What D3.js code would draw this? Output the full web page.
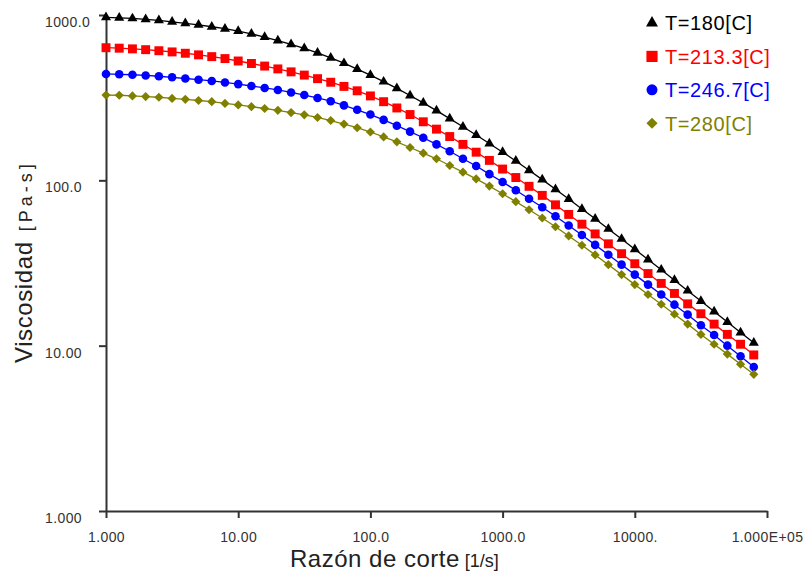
<!DOCTYPE html>
<html>
<head>
<meta charset="utf-8">
<script src="https://cdn.jsdelivr.net/npm/d3@7"></script>
<style>
  body { margin: 0; background: #fff; }
  svg text { font-family: "Liberation Sans", Arial, sans-serif; }
</style>
</head>
<body>
<svg></svg>
<script>
//Gráfico de viscosidad contra razón de corte, escala logarítmica en ambos ejes

//Razón de corte [1/s] (10 puntos por década)
var razonCorte = [1.000, 1.259, 1.585, 1.995, 2.512, 3.162, 3.981, 5.012, 6.310, 7.943,
    10.00, 12.59, 15.85, 19.95, 25.12, 31.62, 39.81, 50.12, 63.10, 79.43,
    100.0, 125.9, 158.5, 199.5, 251.2, 316.2, 398.1, 501.2, 631.0, 794.3,
    1000, 1259, 1585, 1995, 2512, 3162, 3981, 5012, 6310, 7943,
    10000, 12589, 15849, 19953, 25119, 31623, 39811, 50119, 63096, 79433];

//Viscosidad [Pa-s] para cada temperatura
var visc180 = [968, 962, 953, 942, 927, 910, 891, 871, 849, 826,
    800, 769, 736, 701, 665, 628, 590, 551, 511, 471,
    433, 395, 360, 326, 294, 264, 236, 211, 188, 167,
    148, 131, 115, 101, 88.3, 77.1, 67.1, 58.5, 50.8, 44.2,
    38.3, 33.2, 28.8, 24.9, 21.5, 18.6, 16.1, 13.9, 12.0, 10.4];
var visc213 = [634, 630, 624, 617, 608, 598, 587, 574, 560, 545,
    527, 509, 491, 472, 453, 433, 412, 392, 370, 348,
    324, 299, 274, 250, 226, 204, 184, 165, 148, 132,
    117, 104, 92.0, 81.1, 71.1, 62.2, 54.3, 47.4, 41.3, 36.0,
    31.3, 27.3, 23.8, 20.7, 17.9, 15.6, 13.5, 11.7, 10.2, 8.79];
var visc247 = [440, 438, 435, 431, 426, 420, 413, 406, 399, 391,
    382, 372, 362, 352, 340, 328, 315, 301, 284, 267,
    250, 232, 214, 197, 181, 165, 150, 135, 122, 109,
    97.7, 87.1, 77.4, 68.7, 60.7, 53.3, 46.7, 40.7, 35.5, 30.9,
    26.9, 23.4, 20.4, 17.7, 15.4, 13.3, 11.6, 10.0, 8.63, 7.43];
var visc280 = [328, 327, 324, 321, 318, 313, 309, 304, 299, 292,
    286, 279, 272, 265, 257, 249, 240, 230, 219, 208,
    196, 183, 171, 158, 146, 135, 123, 112, 102, 92.3,
    83.0, 74.3, 66.4, 59.2, 52.4, 46.1, 40.5, 35.4, 30.9, 26.9,
    23.4, 20.4, 17.8, 15.5, 13.5, 11.7, 10.2, 8.89, 7.73, 6.71];

var nombres = ["T=180[C]", "T=213.3[C]", "T=246.7[C]", "T=280[C]"];

//Marcas de los ejes y sus etiquetas tal como aparecen
var ticksX = [1, 10, 100, 1000, 10000, 100000];
var etiquetasX = ["1.000", "10.00", "100.0", "1000.0", "10000.", "1.000E+05"];
var ticksY = [1, 10, 100, 1000];
var etiquetasY = ["1.000", "10.00", "100.0", "1000.0"];

//Estilo de cada serie (color y símbolo)
var colores = ["#000000", "#ff0000", "#0000ff", "#808000"];
var simbolos = [d3.symbolTriangle, d3.symbolSquare, d3.symbolCircle, d3.symbolSquare];
var tamanhos = [44, 80, 58, 42];
var tamanhosLeyenda = [62, 125, 95, 62];
var giros = [0, 0, 0, 45];

var series = [visc180, visc213, visc247, visc280].map(function (v, k) {
    return {
        nombre: nombres[k],
        puntos: razonCorte.map(function (x, i) { return { x: x, y: v[i] }; })
    };
});

var svgWidth = 807, svgHeight = 573;
var svg = d3.select('svg')
    .attr("width", svgWidth)
    .attr("height", svgHeight);

//Escaladores logarítmicos
var xScale = d3.scaleLog()
    .domain([1, 1e5])
    .range([106, 767]);
var yScale = d3.scaleLog()
    .domain([1, 1000])
    .range([511, 15]);

var colorEje = "#333";

//Eje x
var eje_x = d3.axisBottom(xScale)
    .tickValues(ticksX)
    .tickFormat(function (d, i) { return etiquetasX[i]; })
    .tickSize(7)
    .tickSizeOuter(0);
var gx = svg.append("g")
    .attr("transform", "translate(0,511)")
    .call(eje_x)
    //d3 pone su propia fuente al llamar el eje, así que la cambio después
    .attr("font-family", null)
    .attr("font-size", 14);
gx.select(".domain").attr("stroke", colorEje).attr("stroke-width", 2);
gx.selectAll(".tick line").attr("stroke", colorEje).attr("stroke-width", 2);
gx.selectAll(".tick text")
    .attr("y", 31)
    .attr("dy", 0)
    .attr("fill", colorEje)
    .style("letter-spacing", "0.4px");

//Eje y (las etiquetas van alineadas a la izquierda y un poco por debajo de la marca)
var eje_y = d3.axisLeft(yScale)
    .tickValues(ticksY)
    .tickFormat(function (d, i) { return etiquetasY[i]; })
    .tickSize(7)
    .tickSizeOuter(0);
var gy = svg.append("g")
    .attr("transform", "translate(106,0)")
    .call(eje_y)
    .attr("font-family", null)
    .attr("font-size", 14);
gy.select(".domain").attr("stroke", colorEje).attr("stroke-width", 2);
gy.selectAll(".tick line").attr("stroke", colorEje).attr("stroke-width", 2);
gy.selectAll(".tick text")
    .attr("x", -61)
    .attr("dy", 0)
    .attr("y", 11.5)
    .attr("text-anchor", "start")
    .attr("fill", colorEje)
    .style("letter-spacing", "0.4px");

//Títulos de los ejes
var tituloX = svg.append("text")
    .attr("x", 290)
    .attr("y", 567)
    .attr("fill", "#222")
    .attr("font-size", 24)
    .style("letter-spacing", "0.5px")
    .text("Razón de corte");
tituloX.append("tspan")
    .attr("font-size", 18)
    .style("letter-spacing", "0px")
    .text(" [1/s]");

var tituloY = svg.append("text")
    .attr("transform", "translate(31.5,363) rotate(-90)")
    .attr("fill", "#222")
    .attr("font-size", 24)
    .style("letter-spacing", "0.6px")
    .text("Viscosidad");
tituloY.append("tspan")
    .attr("font-size", 18)
    .attr("dx", 10)
    .style("letter-spacing", "4px")
    .text("[Pa-s]");

//Líneas y puntos de cada serie
var linea = d3.line()
    .x(function (d) { return xScale(d.x); })
    .y(function (d) { return yScale(d.y); });

series.forEach(function (s, k) {
    var g = svg.append("g");
    g.append("path")
        .attr("d", linea(s.puntos))
        .attr("fill", "none")
        .attr("stroke", colores[k])
        .attr("stroke-width", 1.3);
    g.selectAll("path.marca")
        .data(s.puntos)
        .enter()
        .append("path")
        .attr("class", "marca")
        .attr("d", d3.symbol().type(simbolos[k]).size(tamanhos[k]))
        .attr("transform", function (d) {
            return "translate(" + xScale(d.x) + "," + yScale(d.y) + ") rotate(" + giros[k] + ")";
        })
        .attr("fill", colores[k]);
});

//Leyenda
var leyenda = svg.append("g").attr("transform", "translate(652,23)");
series.forEach(function (s, k) {
    var fila = leyenda.append("g").attr("transform", "translate(0," + (k * 33.4) + ")");
    fila.append("path")
        .attr("d", d3.symbol().type(simbolos[k]).size(tamanhosLeyenda[k]))
        .attr("transform", "rotate(" + giros[k] + ")")
        .attr("fill", colores[k]);
    fila.append("text")
        .attr("x", 13)
        .attr("y", 7.3)
        .attr("font-size", 20)
        .style("letter-spacing", "0.6px")
        .attr("fill", colores[k])
        .text(s.nombre);
});
</script>
</body>
</html>
